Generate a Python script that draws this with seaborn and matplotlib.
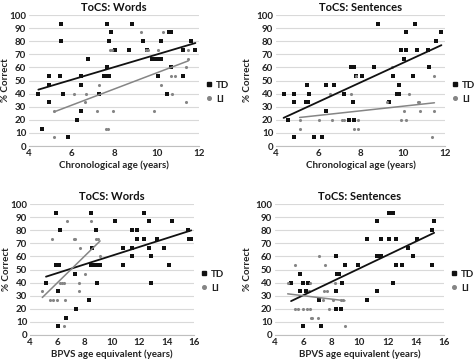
import numpy as np
import matplotlib
matplotlib.use("Agg")
import matplotlib.pyplot as plt
import seaborn as sns
from matplotlib.lines import Line2D

# Words, chronological age
words_age_td_x = [4.44, 4.59, 4.94, 4.94, 4.94, 5.44, 5.52, 5.52, 5.6, 5.84, 6.27, 6.43, 6.43, 6.43,
                  6.78, 7.28, 7.55, 7.67, 7.75, 7.67, 7.67, 7.78, 7.86, 8.06, 8.69, 8.85, 9.35, 9.57,
                  9.8, 9.95, 10.1, 10.2, 10.07, 10.2, 10.5, 10.6, 10.7, 10.7, 11.27, 11.27, 11.6, 11.83]
words_age_td_y = [40, 13.3, 46.7, 53.3, 33.3, 53.3, 93.3, 80, 40, 6.7, 20, 53.3, 46.7, 26.7,
                  66.7, 40, 53.3, 53.3, 53.3, 93.3, 60, 80, 86.7, 73.3, 73.3, 93.3, 80, 73.3,
                  66.7, 66.7, 66.7, 66.7, 53.3, 80, 40, 86.7, 86.7, 60, 53.3, 73.3, 80, 73.3]
words_age_li_x = [5.19, 5.19, 6.12, 6.62, 6.7, 7.2, 7.28, 7.6, 7.7, 7.8, 7.9, 7.94, 9.29, 9.5,
                  9.6, 9.9, 10.09, 10.23, 10.3, 10.7, 10.85, 10.75, 11.4, 11.4, 11.5, 11.5]
words_age_li_y = [6.7, 26.7, 40, 33.3, 40, 26.7, 46.7, 13.3, 13.3, 73.3, 73.3, 26.7, 86.7, 73.3,
                  73.3, 26.7, 73.3, 46.7, 86.7, 53.3, 53.3, 40, 33.3, 60, 73.3, 66.7]

# Sentences, chronological age
sent_age_td_x = [4.36, 4.55, 4.87, 4.87, 4.87, 5.4, 5.5, 5.47, 5.57, 5.82, 6.2, 6.39, 6.39, 6.73,
                 7.2, 7.46, 7.57, 7.68, 7.65, 7.7, 7.8, 8.06, 8.65, 8.82, 9.34, 9.56, 9.75, 9.8,
                 9.82, 9.9, 10.05, 10.15, 10.17, 10.48, 10.58, 10.66, 11.2, 11.24, 11.57, 11.83]
sent_age_td_y = [40, 20, 40, 33.3, 6.7, 33.3, 33.3, 46.7, 40, 6.7, 6.7, 46.7, 26.7, 46.7,
                 40, 20, 60, 60, 33.3, 20, 53.3, 53.3, 60, 93.3, 33.3, 53.3, 40, 40,
                 46.7, 73.3, 66.7, 73.3, 86.7, 53.3, 93.3, 73.3, 73.3, 60, 80, 86.7]
sent_age_li_x = [5.12, 5.12, 6.05, 6.56, 6.67, 7.13, 7.24, 7.57, 7.67, 7.8, 7.9, 7.9, 9.25, 9.47,
                 9.9, 10.05, 10.17, 10.3, 10.7, 10.77, 10.8, 11.4, 11.47, 11.5]
sent_age_li_y = [20, 13.3, 20, 40, 20, 20, 20, 40, 13.3, 53.3, 13.3, 20, 33.3, 60,
                 20, 26.7, 20, 40, 33.3, 33.3, 26.7, 6.7, 26.7, 53.3]

# Words, BPVS age equivalent
words_bpvs_td_x = [5.17, 5.88, 5.9, 6.1, 6.08, 6.08, 6.22, 7.3, 7.33, 8.3, 8.45, 8.55, 8.45, 8.7,
                   8.9, 9.13, 8.8, 8.9, 10.2, 10.8, 10.77, 11.45, 11.45, 11.45, 11.8, 11.8, 12.36,
                   12.36, 12.68, 12.68, 12.87, 12.87, 13.27, 13.8, 14.15, 14.4, 15.57, 15.6, 15.8, 6.6]
words_bpvs_td_y = [40, 93.3, 53.3, 53.3, 33.3, 6.7, 80, 46.7, 20, 26.7, 93.3, 66.7, 53.3, 53.3,
                   53.3, 53.3, 80, 40, 86.7, 66.7, 53.3, 80, 66.7, 60, 80, 73.3, 93.3,
                   73.3, 86.7, 66.7, 60, 40, 73.3, 66.7, 53.3, 86.7, 80, 73.3, 73.3, 13.3]
words_bpvs_li_x = [4.9, 5.47, 5.66, 5.6, 5.96, 6.2, 6.37, 6.5, 6.57, 6.5, 6.74, 7.2, 7.3, 7.6,
                   7.6, 7.67, 8.0, 8.45, 8.85, 8.95, 9.13]
words_bpvs_li_y = [33.3, 26.7, 26.7, 73.3, 26.7, 40, 40, 40, 26.7, 6.7, 86.7, 73.3, 73.3, 40,
                   33.3, 66.7, 46.7, 86.7, 73.3, 73.3, 60]

# Sentences, BPVS age equivalent
sent_bpvs_td_x = [5.14, 5.78, 5.78, 6.18, 5.96, 5.96, 6.32, 7.15, 7.24, 8.3, 8.3, 8.3, 8.42, 8.57,
                  8.7, 8.75, 9.0, 9.87, 10.56, 10.56, 11.22, 11.22, 11.22, 11.5, 11.55, 12.07, 12.4,
                  12.07, 12.4, 12.6, 12.6, 13.0, 13.47, 13.82, 14.06, 15.12, 15.15, 15.3]
sent_bpvs_td_y = [40, 46.7, 33.3, 33.3, 40, 6.7, 40, 26.7, 6.7, 60, 33.3, 20, 46.7, 46.7,
                  20, 40, 53.3, 53.3, 73.3, 26.7, 86.7, 60, 33.3, 60, 73.3, 93.3, 93.3,
                  73.3, 40, 73.3, 53.3, 53.3, 66.7, 60, 73.3, 80, 53.3, 86.7]
sent_bpvs_li_x = [4.9, 5.42, 5.42, 5.6, 5.96, 6.4, 6.48, 6.3, 6.5, 6.53, 6.6, 7.08, 7.12, 7.43,
                  7.55, 7.5, 7.67, 7.86, 8.14, 8.26, 8.7, 8.85, 8.97]
sent_bpvs_li_y = [40, 53.3, 20, 20, 20, 33.3, 40, 20, 20, 13.3, 13.3, 13.3, 60, 26.7,
                  53.3, 33.3, 33.3, 20, 26.7, 40, 26.7, 26.7, 6.7]

panels = [
    ("ToCS: Words", "Chronological age (years)", (4, 12), words_age_td_x, words_age_td_y,
     words_age_li_x, words_age_li_y),
    ("ToCS: Sentences", "Chronological age (years)", (4, 12), sent_age_td_x, sent_age_td_y,
     sent_age_li_x, sent_age_li_y),
    ("ToCS: Words", "BPVS age equivalent (years)", (4, 16), words_bpvs_td_x, words_bpvs_td_y,
     words_bpvs_li_x, words_bpvs_li_y),
    ("ToCS: Sentences", "BPVS age equivalent (years)", (4, 16), sent_bpvs_td_x, sent_bpvs_td_y,
     sent_bpvs_li_x, sent_bpvs_li_y),
]

sns.set_theme(style="white")
plt.rcParams['font.family'] = ['Lato', 'DejaVu Sans']

W, H = 474, 363
# axes boxes in pixels: left, right, top, bottom, y-label x
boxes = [(29, 199, 15, 146, 6), (276, 445, 15, 146, 248), (30, 194, 204, 335, 6), (275, 444, 204, 335, 248)]

td_col = '#111111'
li_col = '#858585'

fig = plt.figure(figsize=(W / 100, H / 100), dpi=100)
for (title, xlab, xlim, tdx, tdy, lix, liy), (l, r, t, b, ylx) in zip(panels, boxes):
    ax = fig.add_axes([l / W, 1 - b / H, (r - l) / W, (b - t) / H])
    ax.scatter(tdx, tdy, marker='s', s=6, color=td_col, linewidths=0, zorder=3)
    ax.scatter(lix, liy, marker='o', s=5, color=li_col, linewidths=0, zorder=3)
    sns.regplot(x=np.array(tdx), y=np.array(tdy), ax=ax, scatter=False, ci=None, truncate=True,
                line_kws=dict(color=td_col, lw=1.3, zorder=4))
    sns.regplot(x=np.array(lix), y=np.array(liy), ax=ax, scatter=False, ci=None, truncate=True,
                line_kws=dict(color=li_col, lw=1.1, zorder=4))
    ax.set_xlim(*xlim)
    ax.set_ylim(0, 100)
    ax.set_xticks(np.arange(xlim[0], xlim[1] + 1, 2))
    ax.set_yticks(np.arange(0, 101, 10))
    ax.yaxis.grid(True, color='#d9d9d9', lw=0.8)
    ax.set_axisbelow(True)
    for s in ['top', 'right', 'left']:
        ax.spines[s].set_visible(False)
    ax.spines['bottom'].set_color('#bfbfbf')
    ax.spines['bottom'].set_linewidth(0.8)
    ax.tick_params(axis='both', length=0, pad=2, labelsize=7, colors='#222222')
    for lbl in ax.get_xticklabels() + ax.get_yticklabels():
        lbl.set_fontweight('bold')
    ax.set_title(title, fontsize=8, fontweight='bold', color='#111111', pad=3)
    ax.set_xlabel(xlab, fontsize=7, fontweight='bold', color='#222222', labelpad=2)
    ax.set_ylabel('% Correct', fontsize=7, fontweight='bold', color='#222222',
                  va='center', ha='center')
    ax.yaxis.set_label_coords((ylx - l) / (r - l), 0.5)
    handles = [Line2D([], [], ls='none', marker='s', ms=3, color=td_col),
               Line2D([], [], ls='none', marker='o', ms=2.6, color=li_col)]
    leg = ax.legend(handles, ['TD', 'LI'], loc='center left', bbox_to_anchor=(1.02, 0.41),
                    frameon=False, fontsize=7, handlelength=0.6, handletextpad=0.4,
                    labelspacing=0.5, borderaxespad=0)
    for txt in leg.get_texts():
        txt.set_fontweight('bold')
        txt.set_color('#222222')

fig.savefig('out.png', dpi=100)
